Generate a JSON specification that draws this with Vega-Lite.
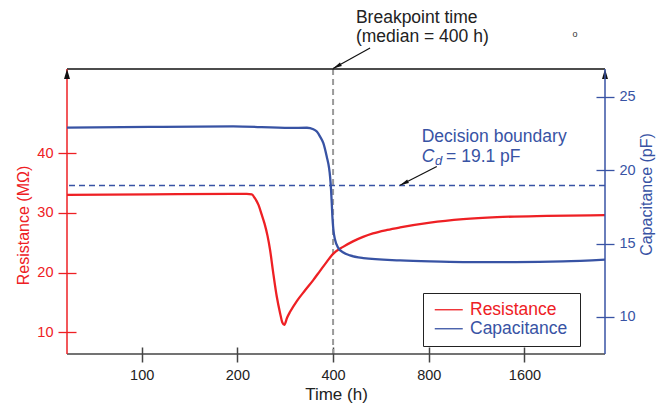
{
  "$schema": "https://vega.github.io/schema/vega-lite/v6.json",
  "width": 538,
  "height": 285,
  "autosize": "none",
  "padding": {"left": 67, "top": 69, "right": 62, "bottom": 50},
  "config": {
    "view": {"stroke": null},
    "font": "Liberation Sans",
    "axis": {"grid": false, "domain": false, "titleFontWeight": "normal", "labelFont": "Liberation Sans", "titleFont": "Liberation Sans"}
  },
  "datasets": {
    "res": [
      {"t": 58.2, "R": 33.03, "series": "Resistance"},
      {"t": 106, "R": 33.11, "series": "Resistance"},
      {"t": 194, "R": 33.19, "series": "Resistance"},
      {"t": 214, "R": 33.19, "series": "Resistance"},
      {"t": 222, "R": 33.1, "series": "Resistance"},
      {"t": 227, "R": 32.47, "series": "Resistance"},
      {"t": 233, "R": 31.35, "series": "Resistance"},
      {"t": 238.7, "R": 29.68, "series": "Resistance"},
      {"t": 243.6, "R": 28.18, "series": "Resistance"},
      {"t": 248.8, "R": 26.17, "series": "Resistance"},
      {"t": 253.4, "R": 23.83, "series": "Resistance"},
      {"t": 259, "R": 20.15, "series": "Resistance"},
      {"t": 266, "R": 16.02, "series": "Resistance"},
      {"t": 272.5, "R": 13.24, "series": "Resistance"},
      {"t": 277, "R": 11.67, "series": "Resistance"},
      {"t": 281, "R": 11.29, "series": "Resistance"},
      {"t": 286.6, "R": 12.46, "series": "Resistance"},
      {"t": 293, "R": 13.46, "series": "Resistance"},
      {"t": 308, "R": 15.3, "series": "Resistance"},
      {"t": 326.6, "R": 17.06, "series": "Resistance"},
      {"t": 346, "R": 18.73, "series": "Resistance"},
      {"t": 364, "R": 20.32, "series": "Resistance"},
      {"t": 380, "R": 21.66, "series": "Resistance"},
      {"t": 400, "R": 23.16, "series": "Resistance"},
      {"t": 430, "R": 24.33, "series": "Resistance"},
      {"t": 462, "R": 25.25, "series": "Resistance"},
      {"t": 497, "R": 26.0, "series": "Resistance"},
      {"t": 534, "R": 26.59, "series": "Resistance"},
      {"t": 592, "R": 27.17, "series": "Resistance"},
      {"t": 650, "R": 27.59, "series": "Resistance"},
      {"t": 808, "R": 28.39, "series": "Resistance"},
      {"t": 1026, "R": 28.96, "series": "Resistance"},
      {"t": 1312, "R": 29.3, "series": "Resistance"},
      {"t": 1881, "R": 29.51, "series": "Resistance"},
      {"t": 2868, "R": 29.63, "series": "Resistance"}
    ],
    "cap": [
      {"t": 58.2, "C": 22.89, "series": "Capacitance"},
      {"t": 106, "C": 22.94, "series": "Capacitance"},
      {"t": 194, "C": 22.97, "series": "Capacitance"},
      {"t": 293, "C": 22.87, "series": "Capacitance"},
      {"t": 331, "C": 22.88, "series": "Capacitance"},
      {"t": 346.7, "C": 22.78, "series": "Capacitance"},
      {"t": 355.5, "C": 22.62, "series": "Capacitance"},
      {"t": 364, "C": 22.28, "series": "Capacitance"},
      {"t": 372.8, "C": 21.83, "series": "Capacitance"},
      {"t": 382, "C": 20.92, "series": "Capacitance"},
      {"t": 388.6, "C": 20.13, "series": "Capacitance"},
      {"t": 391.4, "C": 19.56, "series": "Capacitance"},
      {"t": 394.2, "C": 18.65, "series": "Capacitance"},
      {"t": 396.2, "C": 17.75, "series": "Capacitance"},
      {"t": 398, "C": 16.84, "series": "Capacitance"},
      {"t": 400.9, "C": 15.93, "series": "Capacitance"},
      {"t": 405.8, "C": 15.25, "series": "Capacitance"},
      {"t": 415.6, "C": 14.69, "series": "Capacitance"},
      {"t": 430.9, "C": 14.39, "series": "Capacitance"},
      {"t": 452, "C": 14.19, "series": "Capacitance"},
      {"t": 498, "C": 14.01, "series": "Capacitance"},
      {"t": 650, "C": 13.85, "series": "Capacitance"},
      {"t": 808, "C": 13.78, "series": "Capacitance"},
      {"t": 1026, "C": 13.74, "series": "Capacitance"},
      {"t": 1500, "C": 13.74, "series": "Capacitance"},
      {"t": 2116, "C": 13.78, "series": "Capacitance"},
      {"t": 2868, "C": 13.9, "series": "Capacitance"}
    ]
  },
  "layer": [
    {
      "layer": [
        {
          "data": {"values": [{"t": 400}]},
          "mark": {"type": "rule", "color": "#9a9a9a", "strokeWidth": 2, "strokeDash": [6, 4]},
          "encoding": {"x": {"field": "t", "type": "quantitative"}}
        },
        {
          "data": {"name": "res"},
          "mark": {"type": "line", "interpolate": "monotone", "strokeWidth": 2.3},
          "encoding": {
            "x": {
              "field": "t", "type": "quantitative",
              "scale": {"type": "log", "domain": [58.2, 2868], "nice": false},
              "axis": {
                "title": "Time (h)", "values": [100, 200, 400, 800, 1600], "format": "d",
                "labelFontSize": 14.5, "labelColor": "#222", "titleFontSize": 17, "titleColor": "#222",
                "tickColor": "#444", "tickWidth": 1.5, "offset": -7,
                "tickSize": 15, "labelPadding": 6, "titleY": 52.5, "titleBaseline": "alphabetic"
              }
            },
            "y": {
              "field": "R", "type": "quantitative",
              "scale": {"domain": [6.4, 54.1], "nice": false, "zero": false},
              "axis": {
                "title": "Resistance (MΩ)", "values": [10, 20, 30, 40],
                "labelFontSize": 14.5, "labelColor": "#EE2024", "titleFontSize": 16, "titleColor": "#EE2024",
                "tickColor": "#EE2024", "tickWidth": 1.3, "offset": -9,
                "tickSize": 18, "labelPadding": 5, "titleX": -53, "titleY": 156, "titleBaseline": "middle"
              }
            },
            "color": {
              "field": "series", "type": "nominal",
              "scale": {"domain": ["Resistance", "Capacitance"], "range": ["#EE2024", "#3853A4"]},
              "legend": {
                "orient": "none", "legendX": 356, "legendY": 224,
                "title": "\u2003", "titleOrient": "right", "titleFontSize": 21, "titlePadding": 5,
                "symbolType": "M-1,0H4.6", "symbolSize": 100, "symbolStrokeWidth": 1.3,
                "labelFontSize": 17.5, "labelFont": "Liberation Sans", "labelOffset": 21.5,
                "rowPadding": 0, "padding": 8, "strokeColor": "#222", "fillColor": "white",
                "encode": {"labels": {"update": {"fill": {"signal": "datum.label === 'Resistance' ? '#EE2024' : '#3853A4'"}}}}
              }
            }
          }
        },
        {
          "data": {"values": [{"R": 54.1}]},
          "mark": {"type": "rule", "color": "#111", "strokeWidth": 1.5},
          "encoding": {"y": {"field": "R", "type": "quantitative"}}
        },
        {
          "data": {"values": [{"R": 6.4}]},
          "mark": {"type": "rule", "color": "#444", "strokeWidth": 1.5},
          "encoding": {"y": {"field": "R", "type": "quantitative"}}
        },
        {
          "data": {"values": [{"t": 58.2}]},
          "mark": {"type": "rule", "color": "#EE2024", "strokeWidth": 1.5},
          "encoding": {"x": {"field": "t", "type": "quantitative"}}
        },
        {
          "data": {"values": [{"t": 58.2, "R": 54.1}, {"t": 2868, "R": 54.1}]},
          "mark": {"type": "point", "shape": "M0,0L0.6,2L-0.6,2Z", "size": 100, "filled": true, "color": "#111", "opacity": 1, "strokeWidth": 0},
          "encoding": {"x": {"field": "t", "type": "quantitative"}, "y": {"field": "R", "type": "quantitative"}}
        },
        {
          "data": {"values": [
            {"t": 472, "R": 62.58, "label": "Breakpoint time"},
            {"t": 472, "R": 59.4, "label": "(median = 400 h)"}
          ]},
          "mark": {"type": "text", "align": "left", "baseline": "middle", "fontSize": 17.5, "color": "#222"},
          "encoding": {"x": {"field": "t", "type": "quantitative"}, "y": {"field": "R", "type": "quantitative"}, "text": {"field": "label"}}
        },
        {
          "data": {"values": [{"t": 523, "R": 57.6, "t2": 400, "R2": 54.17}]},
          "mark": {"type": "rule", "color": "#111", "strokeWidth": 1.2},
          "encoding": {
            "x": {"field": "t", "type": "quantitative"}, "y": {"field": "R", "type": "quantitative"},
            "x2": {"field": "t2"}, "y2": {"field": "R2"}
          }
        },
        {
          "data": {"values": [{"t": 400, "R": 54.17}]},
          "mark": {"type": "point", "shape": "M0,0L0.35,1.6L-0.35,1.6Z", "size": 125, "filled": true, "color": "#111", "opacity": 1, "angle": 241, "strokeWidth": 0},
          "encoding": {"x": {"field": "t", "type": "quantitative"}, "y": {"field": "R", "type": "quantitative"}}
        },
        {
          "data": {"values": [{"t": 2308, "R": 60, "label": "o"}]},
          "mark": {"type": "text", "align": "center", "baseline": "middle", "fontSize": 9, "color": "#333"},
          "encoding": {"x": {"field": "t", "type": "quantitative"}, "y": {"field": "R", "type": "quantitative"}, "text": {"field": "label"}}
        }
      ]
    },
    {
      "layer": [
        {
          "data": {"values": [{"C": 18.95}]},
          "mark": {"type": "rule", "color": "#3853A4", "strokeWidth": 1.3, "strokeDash": [6, 4]},
          "encoding": {"y": {"field": "C", "type": "quantitative"}}
        },
        {
          "data": {"name": "cap"},
          "mark": {"type": "line", "interpolate": "monotone", "strokeWidth": 2.3},
          "encoding": {
            "x": {"field": "t", "type": "quantitative"},
            "y": {
              "field": "C", "type": "quantitative",
              "scale": {"domain": [7.48, 26.88], "nice": false, "zero": false},
              "axis": {
                "orient": "right", "title": "Capacitance (pF)", "values": [10, 15, 20, 25],
                "labelFontSize": 14.5, "labelColor": "#3853A4", "titleFontSize": 16, "titleColor": "#3853A4",
                "tickColor": "#3853A4", "tickWidth": 1.3, "offset": -9,
                "tickSize": 18, "labelPadding": 5, "titleX": 50, "titleY": 125, "titleAngle": 270, "titleBaseline": "middle"
              }
            },
            "color": {"field": "series", "type": "nominal"}
          }
        },
        {
          "data": {"values": [{"t": 2868}]},
          "mark": {"type": "rule", "color": "#3853A4", "strokeWidth": 1.5},
          "encoding": {"x": {"field": "t", "type": "quantitative"}}
        },
        {
          "data": {"values": [
            {"t": 760, "C": 22.28, "label": "Decision boundary"},
            {"t": 907, "C": 20.92, "label": "= 19.1 pF"}
          ]},
          "mark": {"type": "text", "align": "left", "baseline": "middle", "fontSize": 17.5, "color": "#3853A4"},
          "encoding": {"x": {"field": "t", "type": "quantitative"}, "y": {"field": "C", "type": "quantitative"}, "text": {"field": "label"}}
        },
        {
          "data": {"values": [{"t": 760, "C": 20.92, "label": "C"}]},
          "mark": {"type": "text", "align": "left", "baseline": "middle", "fontSize": 17.5, "fontStyle": "italic", "color": "#3853A4"},
          "encoding": {"x": {"field": "t", "type": "quantitative"}, "y": {"field": "C", "type": "quantitative"}, "text": {"field": "label"}}
        },
        {
          "data": {"values": [{"t": 837, "C": 20.62, "label": "d"}]},
          "mark": {"type": "text", "align": "left", "baseline": "middle", "fontSize": 13, "fontStyle": "italic", "color": "#3853A4"},
          "encoding": {"x": {"field": "t", "type": "quantitative"}, "y": {"field": "C", "type": "quantitative"}, "text": {"field": "label"}}
        },
        {
          "data": {"values": [{"t": 848, "C": 20.24, "t2": 650, "C2": 18.97}]},
          "mark": {"type": "rule", "color": "#111", "strokeWidth": 1.2},
          "encoding": {
            "x": {"field": "t", "type": "quantitative"}, "y": {"field": "C", "type": "quantitative"},
            "x2": {"field": "t2"}, "y2": {"field": "C2"}
          }
        },
        {
          "data": {"values": [{"t": 650, "C": 18.97}]},
          "mark": {"type": "point", "shape": "M0,0L0.35,1.6L-0.35,1.6Z", "size": 125, "filled": true, "color": "#111", "opacity": 1, "angle": 243, "strokeWidth": 0},
          "encoding": {"x": {"field": "t", "type": "quantitative"}, "y": {"field": "C", "type": "quantitative"}}
        }
      ]
    }
  ],
  "resolve": {"scale": {"y": "independent"}}
}
